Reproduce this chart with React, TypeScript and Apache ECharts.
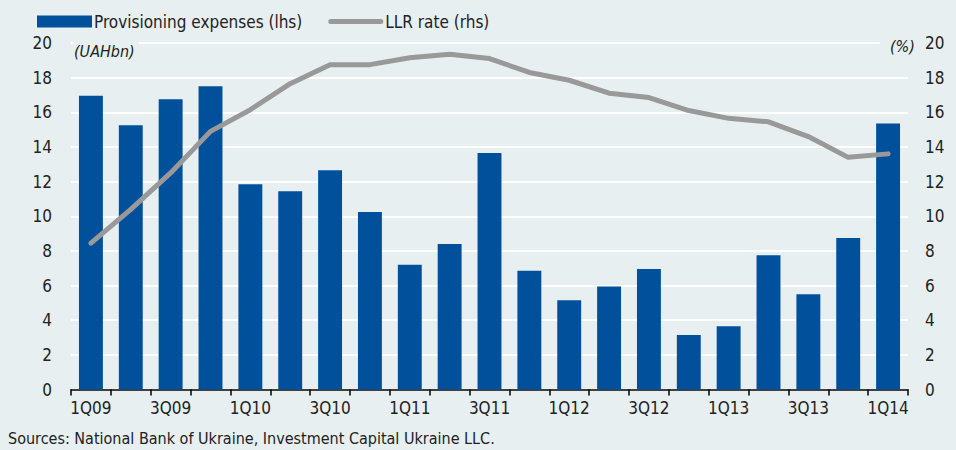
import React, { useEffect, useRef } from "react";
import * as echarts from "echarts";

const categories = [
  "1Q09", "2Q09", "3Q09", "4Q09", "1Q10", "2Q10", "3Q10", "4Q10", "1Q11", "2Q11", "3Q11",
  "4Q11", "1Q12", "2Q12", "3Q12", "4Q12", "1Q13", "2Q13", "3Q13", "4Q13", "1Q14",
];
const provisioningExpenses = [
  16.95, 15.25, 16.75, 17.5, 11.85, 11.45, 12.65, 10.25, 7.2, 8.4, 13.65,
  6.85, 5.15, 5.95, 6.95, 3.15, 3.65, 7.75, 5.5, 8.75, 15.35,
];
const llrRate = [
  8.45, 10.4, 12.5, 14.9, 16.15, 17.65, 18.75, 18.75, 19.15, 19.35, 19.1,
  18.3, 17.85, 17.1, 16.85, 16.1, 15.65, 15.45, 14.6, 13.4, 13.6,
];
const yTicks = { min: 0, max: 20, interval: 2 };

const BG = "#e7eff1";
const FONT = "'Liberation Sans Narrow', 'DejaVu Sans Condensed', 'Roboto Condensed', sans-serif";

export default function App() {
  const ref = useRef<HTMLDivElement>(null);
  useEffect(() => {
    document.body.style.margin = "0";
    const chart = echarts.init(ref.current!, null, { renderer: "svg" });
    chart.setOption({
      animation: false,
      backgroundColor: BG,
      textStyle: { fontFamily: FONT },
      legend: {
        left: 32,
        top: 8,
        itemWidth: 55,
        itemHeight: 12,
        itemGap: 26,
        symbolKeepAspect: true,
        textStyle: { fontFamily: FONT, fontSize: 17, color: "#222", padding: [0, 0, 0, -3] },
        data: [
          { name: "Provisioning expenses (lhs)", icon: "rect" },
          {
            name: "LLR rate (rhs)",
            icon: "path://M2.5,0 H52.5 A2.5,2.5 0 0 1 52.5,5 H2.5 A2.5,2.5 0 0 1 2.5,0 Z",
            itemStyle: { color: "#999999" },
          },
        ],
      },
      grid: { left: 71, right: 48, top: 43, bottom: 60.5 },
      xAxis: {
        type: "category",
        data: categories,
        boundaryGap: true,
        axisLine: { show: true, lineStyle: { color: "#000", width: 1.5 } },
        axisTick: { show: true, interval: 0, length: 6, lineStyle: { color: "#000", width: 1.5 } },
        axisLabel: { interval: 1, color: "#222", fontSize: 17, fontFamily: FONT, margin: 10 },
      },
      yAxis: [
        {
          type: "value",
          min: yTicks.min,
          max: yTicks.max,
          interval: yTicks.interval,
          axisLine: { show: false },
          axisTick: { show: false },
          splitLine: { show: true, lineStyle: { color: "#ffffff", width: 2 } },
          axisLabel: { color: "#222", fontSize: 17, fontFamily: FONT, margin: 19 },
        },
        {
          type: "value",
          min: yTicks.min,
          max: yTicks.max,
          interval: yTicks.interval,
          position: "right",
          axisLine: { show: false },
          axisTick: { show: false },
          splitLine: { show: false },
          axisLabel: { color: "#222", fontSize: 17, fontFamily: FONT, margin: 17 },
        },
      ],
      series: [
        {
          name: "Provisioning expenses (lhs)",
          type: "bar",
          data: provisioningExpenses,
          barWidth: "60%",
          itemStyle: { color: "#00509c" },
          yAxisIndex: 0,
        },
        {
          name: "LLR rate (rhs)",
          type: "line",
          data: llrRate,
          yAxisIndex: 1,
          symbol: "none",
          lineStyle: { color: "#999999", width: 5, cap: "round", join: "round" },
          itemStyle: { color: "#999999" },
        },
      ],
      graphic: [
        {
          type: "text",
          left: 74,
          top: 41,
          z: 100,
          style: {
            text: "(UAHbn)",
            font: `italic 16px ${FONT}`,
            fill: "#222",
            backgroundColor: BG,
            padding: [2, 4, 2, 0],
          },
        },
        {
          type: "text",
          left: 880,
          top: 36,
          z: 100,
          style: {
            text: "(%)",
            font: `italic 16px ${FONT}`,
            fill: "#222",
            backgroundColor: BG,
            padding: [2, 2, 2, 10],
          },
        },
        {
          type: "text",
          left: 8,
          top: 430,
          style: {
            text: "Sources: National Bank of Ukraine, Investment Capital Ukraine LLC.",
            font: `16px ${FONT}`,
            fill: "#222",
          },
        },
      ],
    });
    return () => chart.dispose();
  }, []);
  return <div ref={ref} style={{ width: 956, height: 450 }} />;
}
